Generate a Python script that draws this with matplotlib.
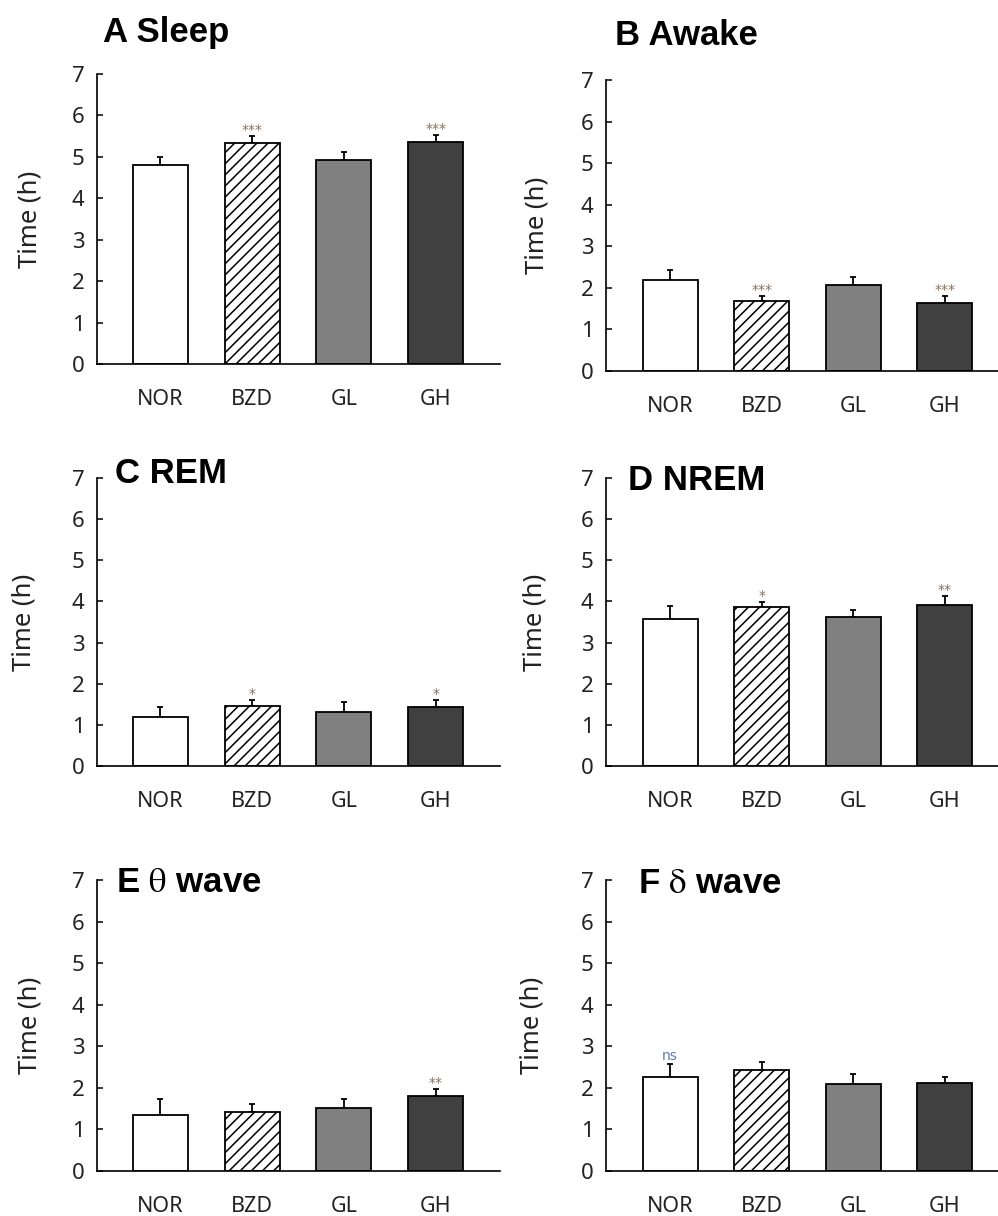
import matplotlib
matplotlib.use("Agg")
import matplotlib.pyplot as plt
import numpy as np

plt.rcParams['mathtext.fontset'] = 'stix'
plt.rcParams['hatch.linewidth'] = 1.1

groups = ["NOR", "BZD", "GL", "GH"]

sleep_mean = [4.80, 5.33, 4.92, 5.37]
sleep_err = [0.20, 0.17, 0.20, 0.16]
sleep_sig = ["", "***", "", "***"]

awake_mean = [2.20, 1.68, 2.08, 1.64]
awake_err = [0.22, 0.13, 0.18, 0.17]
awake_sig = ["", "***", "", "***"]

rem_mean = [1.20, 1.47, 1.31, 1.43]
rem_err = [0.24, 0.14, 0.25, 0.18]
rem_sig = ["", "*", "", "*"]

nrem_mean = [3.58, 3.87, 3.61, 3.91]
nrem_err = [0.30, 0.12, 0.18, 0.22]
nrem_sig = ["", "*", "", "**"]

theta_mean = [1.35, 1.42, 1.52, 1.80]
theta_err = [0.38, 0.18, 0.21, 0.17]
theta_sig = ["", "", "", "**"]

delta_mean = [2.25, 2.42, 2.09, 2.12]
delta_err = [0.33, 0.20, 0.24, 0.14]
delta_sig = ["ns", "", "", ""]

titles = ["A Sleep", "B Awake", "C REM", "D NREM",
          r"E $\mathrm{\theta}$ wave", r"F $\mathrm{\delta}$ wave"]

panels = [(sleep_mean, sleep_err, sleep_sig),
          (awake_mean, awake_err, awake_sig),
          (rem_mean, rem_err, rem_sig),
          (nrem_mean, nrem_err, nrem_sig),
          (theta_mean, theta_err, theta_sig),
          (delta_mean, delta_err, delta_sig)]

bar_colors = ["white", "white", "#808080", "#404040"]
bar_hatch = [None, "///", None, None]

W, H = 998, 1216
fig = plt.figure(figsize=(W / 100, H / 100), dpi=100)

# axes boxes in pixels: left, right, top(7), bottom(0)
boxes = [(97, 500, 74, 364), (606, 998, 80, 371),
         (97, 500, 478, 766), (606, 998, 478, 766),
         (97, 500, 880, 1171), (606, 998, 880, 1171)]
xlims = [(-0.69, 3.70), (-0.70, 3.58)]
label_x = [-0.136, -0.143, -0.149, -0.148, -0.136, -0.156]
# title anchor (left, baseline) in pixels
title_pos = [(103, 42), (615, 45), (115, 483), (628, 490), (116, 892), (638, 893)]

for k, (means, errs, sigs) in enumerate(panels):
    l, r, t, b = boxes[k]
    ax = fig.add_axes([l / W, 1 - b / H, (r - l) / W, (b - t) / H])
    x = np.arange(len(groups))
    ax.errorbar(x, means, yerr=[np.zeros(len(errs)), errs], fmt='none',
                ecolor='black', elinewidth=1.3, capsize=2.5, capthick=1.3, zorder=1)
    bars = ax.bar(x, means, width=0.6, color=bar_colors, edgecolor='black',
                  linewidth=1.3, zorder=2)
    for bar, h in zip(bars, bar_hatch):
        if h:
            bar.set_hatch(h)
    for i, s in enumerate(sigs):
        if s:
            off = 3 if s == "ns" else 1.5
            ax.annotate(s, xy=(i, means[i] + errs[i]), xytext=(0, off),
                        textcoords='offset points', ha='center', va='baseline',
                        fontsize=10, color='#5b7fae' if s == "ns" else '#8a7058')
    ax.set_xlim(*xlims[k % 2])
    ax.set_ylim(0, 7)
    ax.set_yticks(range(8))
    ax.set_xticks(x)
    ax.set_xticklabels(groups, fontsize=15.5, family='Noto Sans', color='#222222')
    for lab in ax.get_yticklabels():
        lab.set_fontsize(16)
        lab.set_family('Noto Sans')
        lab.set_color('#222222')
    ax.tick_params(axis='y', direction='in', length=4, width=1.1, pad=9)
    ax.tick_params(axis='x', length=0, pad=18)
    ax.spines['top'].set_visible(False)
    ax.spines['right'].set_visible(False)
    ax.spines['left'].set_linewidth(1.2)
    ax.spines['bottom'].set_linewidth(1.2)
    ax.set_ylabel("Time (h)", fontsize=18.5, family='Noto Sans', color='#222222')
    ax.yaxis.set_label_coords(label_x[k], 0.5)
    tx, ty = title_pos[k]
    fig.text(tx / W, 1 - ty / H, titles[k], fontsize=25, fontweight='bold',
             family='Liberation Sans', ha='left', va='baseline')

fig.savefig("out.png", dpi=100)
